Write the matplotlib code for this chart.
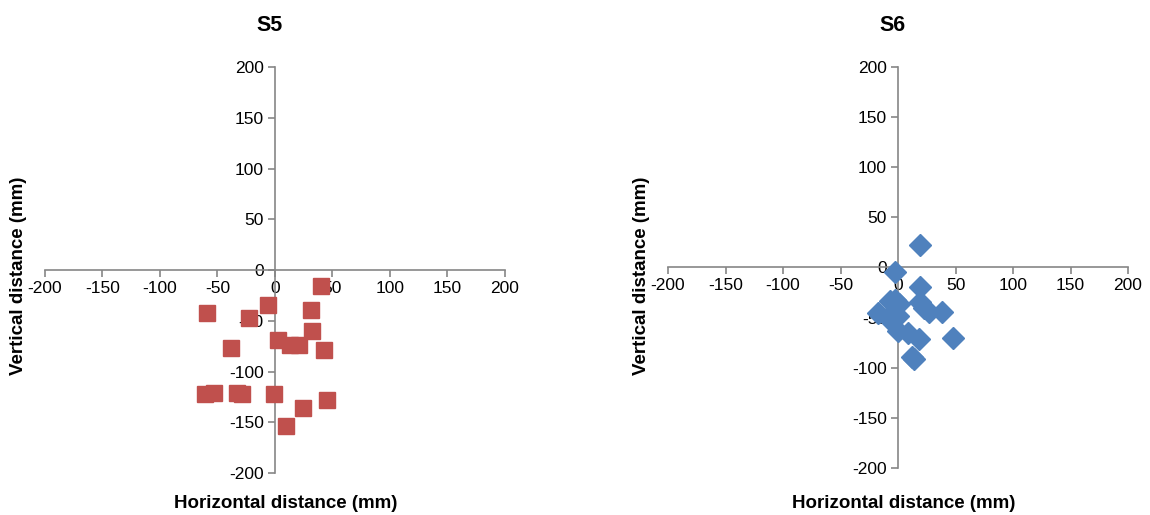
import matplotlib
matplotlib.use("Agg")
import matplotlib.pyplot as plt

plt.rcParams['font.family'] = ['Liberation Sans', 'DejaVu Sans']
plt.rcParams['axes.unicode_minus'] = False

# S5 data (mm)
s5_x = [40, -59, -23, -6, 31, 32, 3, 13, 21, 43, -38, -61, -53, -33, -29, -1, 45, 24, 10]
s5_y = [-16, -42, -47, -34, -39, -60, -69, -74, -74, -79, -77, -122, -121, -121, -122, -122, -128, -136, -154]

# S6 data (mm)
s6_x = [19, -3, 19, -3, -7, 1, 19, 23, 27, 38, -17, -8, 0, -8, 0, 9, 18, 48, 14, 12]
s6_y = [22, -5, -20, -33, -34, -37, -35, -40, -44, -44, -45, -48, -48, -51, -63, -65, -71, -70, -91, -89]

ticks = [-200, -150, -100, -50, 0, 50, 100, 150, 200]
axis_grey = '#868686'


def style_axes(ax, title, xlab_pos, ylab_pos):
    ax.set_xlim(-200, 200)
    ax.set_ylim(-200, 200)
    ax.set_xticks(ticks)
    ax.set_yticks(ticks)
    ax.spines['left'].set_position(('data', 0))
    ax.spines['bottom'].set_position(('data', 0))
    ax.spines['top'].set_visible(False)
    ax.spines['right'].set_visible(False)
    for s in ('left', 'bottom'):
        ax.spines[s].set_color(axis_grey)
        ax.spines[s].set_linewidth(1.2)
    ax.tick_params(direction='out', length=5, width=1.2, color=axis_grey,
                   labelsize=12.5, labelcolor='black', pad=3)
    ax.set_title(title, fontsize=15.5, fontweight='bold', pad=26)
    ax.title.set_x(0.489)
    ax.set_xlabel('Horizontal distance (mm)', fontsize=13.5, fontweight='bold')
    ax.set_ylabel('Vertical distance (mm)', fontsize=13.5, fontweight='bold')
    ax.xaxis.set_label_coords(*xlab_pos)
    ax.yaxis.set_label_coords(*ylab_pos)
    ax.set_facecolor('none')


fig = plt.figure(figsize=(11.5, 5.15), dpi=100)
ax1 = fig.add_axes([0.0391, 0.0816, 0.4, 0.788])
ax2 = fig.add_axes([0.5809, 0.0913, 0.4, 0.779])

ax1.plot(s5_x, s5_y, linestyle='none', marker='s', markersize=12,
         color='#C0504D', zorder=3, clip_on=False)
ax2.plot(s6_x, s6_y, linestyle='none', marker='D', markersize=11.5,
         color='#4F81BD', zorder=3, clip_on=False)

style_axes(ax1, 'S5', (0.524, -0.054), (-0.039, 0.485))
style_axes(ax2, 'S6', (0.513, -0.067), (-0.039, 0.479))

fig.savefig('out.png', dpi=100)
